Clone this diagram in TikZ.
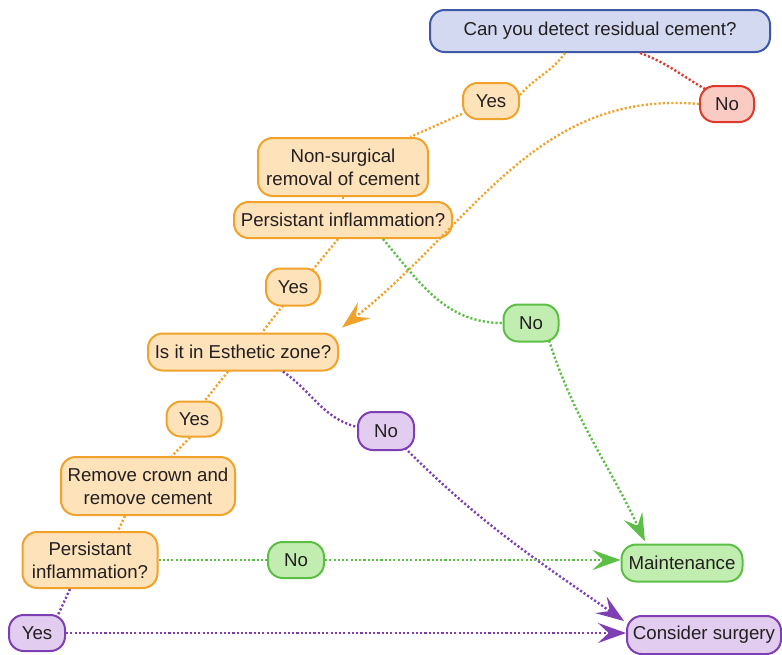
\documentclass[tikz,border=0pt]{standalone}
\usepackage{fontspec}
\setmainfont{Liberation Sans}
\usetikzlibrary{arrows.meta,calc}
\definecolor{txt}{HTML}{231F20}
\definecolor{oB}{HTML}{F0A22A}
\definecolor{oF}{HTML}{FDE2BA}
\definecolor{gB}{HTML}{5BBE45}
\definecolor{gF}{HTML}{C2EDB0}
\definecolor{pB}{HTML}{7E3FB5}
\definecolor{pF}{HTML}{E2CDF0}
\definecolor{rB}{HTML}{DE3A2C}
\definecolor{rF}{HTML}{F9CBC3}
\definecolor{bB}{HTML}{3E59A8}
\definecolor{bF}{HTML}{D4D9F2}
\tikzset{
  box/.style={rounded corners=11pt, line width=1.5pt, inner sep=0pt, align=center,
    text=txt, font=\fontsize{14}{17}\selectfont},
  obox/.style={box, draw=oB, fill=oF},
  gbox/.style={box, draw=gB, fill=gF},
  pbox/.style={box, draw=pB, fill=pF},
  rbox/.style={box, draw=rB, fill=rF},
  bbox/.style={box, draw=bB, fill=bF},
  con/.style={line width=1.8pt, dash pattern=on 1.6pt off 1.6pt},
  arr/.style={-{Stealth[length=21pt,width=15pt,inset=8pt]}},
}
\begin{document}
\begin{tikzpicture}[x=0.75pt,y=-0.75pt]
\useasboundingbox (0,0) rectangle (782,654);
% nodes
\node[bbox, minimum width=255pt, minimum height=31.5pt] (q1) at (600,31) {Can you detect residual cement?};
\node[rbox, minimum width=40.5pt, minimum height=27pt] (no1) at (727,104) {No};
\node[obox, minimum width=42pt, minimum height=27pt] (yes1) at (491,101) {Yes};
\node[obox, minimum width=127.5pt, minimum height=43.5pt] (ns) at (343,167) {Non-surgical\\removal of cement};
\node[obox, minimum width=163.5pt, minimum height=27pt] (pi1) at (343,220) {Persistant inflammation?};
\node[obox, minimum width=40.5pt, minimum height=27.75pt] (yes2) at (293,287) {Yes};
\node[gbox, minimum width=41.25pt, minimum height=27.75pt] (no2) at (531,323) {No};
\node[obox, minimum width=142.5pt, minimum height=27.75pt] (ez) at (243,352) {Is it in Esthetic zone?};
\node[obox, minimum width=41.25pt, minimum height=26.25pt] (yes3) at (194,419) {Yes};
\node[pbox, minimum width=42pt, minimum height=28.5pt] (no3) at (386,431) {No};
\node[obox, minimum width=130.5pt, minimum height=43.5pt] (rc) at (148,486) {Remove crown and\\remove cement};
\node[obox, minimum width=101.25pt, minimum height=42pt] (pi2) at (90,560) {Persistant\\inflammation?};
\node[gbox, minimum width=42pt, minimum height=27pt] (no4) at (296,560) {No};
\node[pbox, minimum width=42pt, minimum height=27pt] (yes4) at (37,633) {Yes};
\node[gbox, minimum width=90.75pt, minimum height=27.75pt] (maint) at (682,563) {Maintenance};
\node[pbox, minimum width=115.5pt, minimum height=28.5pt] (cs) at (704,635) {Consider surgery};
% connectors
\draw[con, oB] ($(q1.south)+(-35,0)$) to[out=-125,in=50] ($(yes1.east)+(0,-6)$);
\draw[con, oB] (yes1) -- (ns);
\draw[con, rB] ($(q1.south)+(40,0)$) to[out=-20,in=150] ($(no1.north west)+(6,4)$);
\draw[con, oB, arr] (no1.west) to[out=175,in=38] ($(ez.north east)+(3,-5)$);
\draw[con, oB] (ns) -- (pi1);
\draw[con, oB] ($(pi1.south)+(-5,0)$) -- ($(yes2.north)+(20,2)$);
\draw[con, gB] ($(pi1.south)+(40,0)$) to[out=-50,in=180] (no2.west);
\draw[con, gB, arr] ($(no2.south)+(18,-2)$) to[out=-72,in=115] ($(maint.north)+(-37,-2)$);
\draw[con, oB] ($(yes2.south)+(-10,-1)$) -- ($(ez.north)+(19,0)$);
\draw[con, oB] ($(ez.south)+(-15,0)$) -- ($(yes3.north)+(11,0)$);
\draw[con, pB] ($(ez.south)+(40,0)$) to[out=-35,in=165] ($(no3.west)+(0,-4)$);
\draw[con, pB, arr] ($(no3.south east)+(-10,-3)$) to[out=-45,in=145] ($(cs.north west)+(-2,6)$);
\draw[con, oB] ($(yes3.south)+(-4,0)$) -- ($(rc.north)+(24,0)$);
\draw[con, oB] ($(rc.south)+(-23,0)$) -- ($(pi2.north)+(28,0)$);
\draw[con, gB] (pi2.east) -- (no4.west);
\draw[con, gB, arr] (no4.east) -- (no4.east -| maint.west);
\draw[con, pB] ($(pi2.south)+(-20,0)$) -- ($(yes4.north)+(21,1)$);
\draw[con, pB, arr] (yes4.east) -- (yes4.east -| cs.west);
\end{tikzpicture}
\end{document}
